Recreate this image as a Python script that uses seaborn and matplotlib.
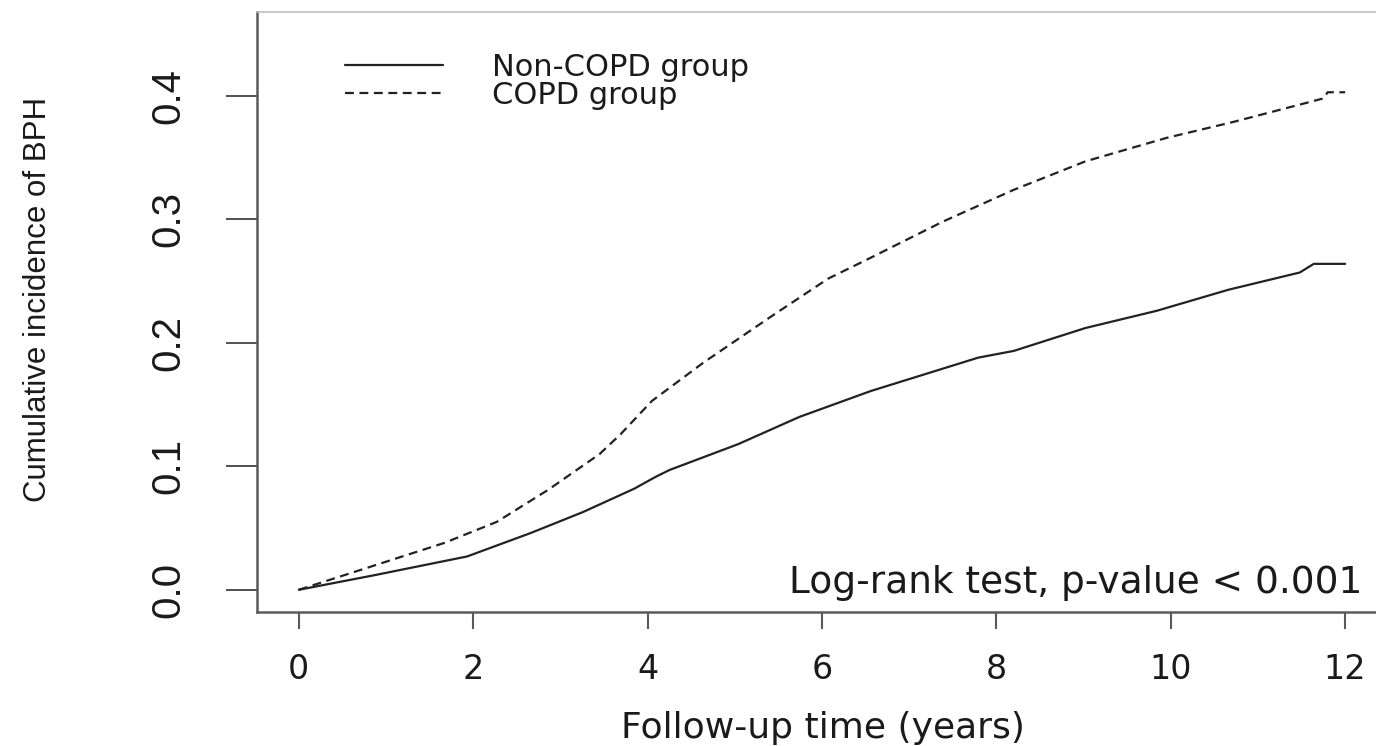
import numpy as np
import pandas as pd
import matplotlib
matplotlib.use("Agg")
import matplotlib.pyplot as plt
import seaborn as sns

# ---- data ----
groups = ["Non-COPD group", "COPD group"]

time_non = [0.0, 0.88, 1.93, 2.66, 3.26, 3.85, 4.09, 4.25, 5.04, 5.74, 6.56,
            7.79, 8.2, 9.02, 9.84, 10.66, 11.48, 11.64, 12.0]
cum_non = [0.0, 0.012, 0.027, 0.046, 0.063, 0.082, 0.0914, 0.097, 0.118, 0.140, 0.161,
           0.188, 0.1935, 0.212, 0.226, 0.243, 0.257, 0.264, 0.264]

time_copd = [0.0, 0.88, 1.67, 2.27, 2.86, 3.45, 3.69, 4.05, 4.64, 5.43, 6.07, 6.56,
             7.38, 8.2, 9.02, 9.95, 10.72, 11.48, 11.75, 11.8, 12.0]
cum_copd = [0.0, 0.020, 0.038, 0.055, 0.081, 0.110, 0.126, 0.153, 0.184, 0.222, 0.252, 0.269,
            0.298, 0.324, 0.347, 0.366, 0.379, 0.393, 0.398, 0.403, 0.403]

x_ticks = [0, 2, 4, 6, 8, 10, 12]
y_ticks = [0.0, 0.1, 0.2, 0.3, 0.4]
y_tick_labels = ["0.0", "0.1", "0.2", "0.3", "0.4"]

x_label = "Follow-up time (years)"
y_label = "Cumulative incidence of BPH"
note = "Log-rank test, p-value < 0.001"

df = pd.concat([
    pd.DataFrame({"time": time_non, "cum": cum_non, "group": groups[0]}),
    pd.DataFrame({"time": time_copd, "cum": cum_copd, "group": groups[1]}),
], ignore_index=True)

# ---- style ----
sns.set_theme(style="white")
plt.rcParams["font.family"] = ["DejaVu Sans"]
narrow = ["Liberation Sans", "DejaVu Sans"]
ink = "#1a1a1a"
axis_col = "#5a5a5a"

fig = plt.figure(figsize=(13.76, 7.46), dpi=100)
fig.patch.set_facecolor("white")
ax = fig.add_axes([257 / 1376, 134 / 746, 1130 / 1376, 600 / 746])

sns.lineplot(data=df, x="time", y="cum", hue="group", style="group",
             hue_order=groups, style_order=groups,
             palette=["#222222", "#222222"],
             dashes={groups[0]: "", groups[1]: (4, 2.5)},
             linewidth=1.6, estimator=None, sort=False, ax=ax, legend=True)

ax.set_xlim(-0.48, 12.48)
ax.set_ylim(-0.018, 0.468)

# spines (R-like)
for s in ["left", "bottom"]:
    ax.spines[s].set_color(axis_col)
    ax.spines[s].set_linewidth(1.8)
ax.spines["top"].set_color("#bdbdbd")
ax.spines["top"].set_linewidth(1.2)
ax.spines["right"].set_visible(False)

ax.set_xticks(x_ticks)
ax.set_xticklabels([str(v) for v in x_ticks], fontsize=24, color=ink)
ax.tick_params(axis="x", direction="out", length=12, width=1.5, color=axis_col,
               pad=17.5, bottom=True)

ax.set_yticks(y_ticks)
ax.set_yticklabels(y_tick_labels, rotation=90, va="center", fontsize=29,
                   family=narrow, color=ink)
ax.tick_params(axis="y", direction="out", length=22, width=1.2, color="#333333",
               pad=28, left=True)

ax.set_xlabel(x_label, fontsize=26, color=ink, va="center")
ax.xaxis.set_label_coords((823 - 257) / 1130, (612 - 728) / 600)
ax.set_ylabel(y_label, fontsize=22.5, family=narrow, color=ink, va="center")
ax.yaxis.set_label_coords((38 - 257) / 1130, (612 - 299) / 600)

ax.text(12.2, -0.0025, note, ha="right", va="baseline", fontsize=27, color=ink)

old = ax.get_legend()
handles = old.legend_handles
labels = [t.get_text() for t in old.get_texts()]
old.remove()
leg = ax.legend(handles, labels, loc="upper left",
                bbox_to_anchor=((345 - 257) / 1130, (612 - 53) / 600),
                frameon=False, fontsize=22, handlelength=3.2, handletextpad=1.6,
                labelspacing=-0.03, borderpad=0, borderaxespad=0)
for t in leg.get_texts():
    t.set_color(ink)
for h in leg.legend_handles:
    h.set_linewidth(1.6)

fig.savefig("out.png", dpi=100, facecolor="white")
